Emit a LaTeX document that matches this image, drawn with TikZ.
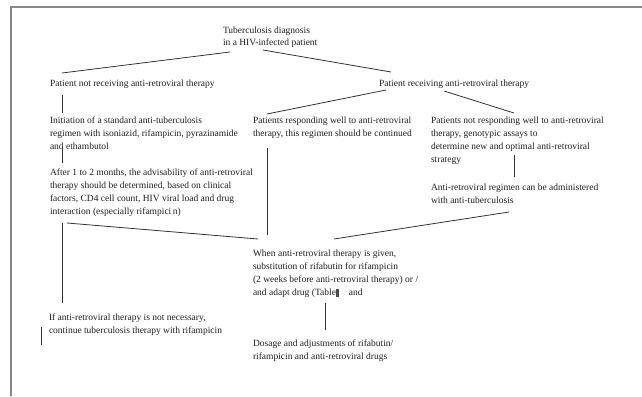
\documentclass[tikz,border=0pt]{standalone}
\usepackage{fontspec}
\setmainfont{Liberation Serif}
\usepackage{array}
\begin{document}
\begin{tikzpicture}[x=1pt,y=-1pt,
  txt/.style={anchor=base west,inner sep=0pt,outer sep=0pt,text=black!88,
    font=\fontsize{9.5}{13.3}\selectfont},
  conn/.style={draw=black!80,line width=0.8pt},
  frame/.style={draw=black!47,line width=2pt}]
\newcommand{\blk}[1]{\begin{tabular}[t]{@{}l@{}}#1\end{tabular}}
\useasboundingbox (0,0) rectangle (642,396);
\draw[frame] (11,396) -- (11,6.7) -- (642,6.7);
% texts
\node[txt] (title) at (223,34) {\blk{Tuberculosis diagnosis\\[-1.3pt]in a HIV-infected patient}};
\node[txt] (notrec) at (50,86) {Patient not receiving anti-retroviral therapy};
\node[txt] (rec) at (379,86) {Patient receiving anti-retroviral therapy};
\node[txt] (init) at (50,123) {\blk{Initiation of a standard anti-tuberculosis\\regimen with isoniazid, rifampicin, pyrazinamide\\and ethambutol}};
\node[txt] (resp) at (253,123) {\blk{Patients responding well to anti-retroviral\\therapy, this regimen should be continued}};
\node[txt] (notresp) at (431,123) {\blk{Patients not responding well to anti-retroviral\\therapy, genotypic assays to\\determine new and optimal anti-retroviral\\strategy}};
\node[txt] (after) at (50,175) {\blk{After 1 to 2 months, the advisability of anti-retroviral\\therapy should be determined, based on clinical\\factors, CD4 cell count, HIV viral load and drug\\interaction (especially rifampici\,n)}};
\node[txt] (antireg) at (431,190) {\blk{Anti-retroviral regimen can be administered\\with anti-tuberculosis}};
\node[txt] (when) at (253,256) {\blk{When anti-retroviral therapy is given,\\substitution of rifabutin for rifampicin\\(2 weeks before anti-retroviral therapy) or /\\and adapt drug (Table{\color{black!70}\rule[-1pt]{3.5pt}{7.5pt}}\quad and}};
\node[txt] (ifnot) at (49,320) {\blk{If anti-retroviral therapy is not necessary,\\continue tuberculosis therapy with rifampicin}};
\node[txt] (dosage) at (253,346) {\blk{Dosage and adjustments of rifabutin/\\rifampicin and anti-retroviral drugs}};
% connector end points
\coordinate (title-l) at (230,52);
\coordinate (title-r) at (263,50);
\coordinate (notrec-t) at (62,73);
\coordinate (notrec-b) at (62,95);
\coordinate (rec-t) at (391,72);
\coordinate (rec-bl) at (386,90);
\coordinate (rec-br) at (444,91);
\coordinate (init-t) at (62,113);
\coordinate (init-b) at (62,146);
\coordinate (resp-t) at (267,114);
\coordinate (resp-b) at (267,148);
\coordinate (notresp-t) at (514,113);
\coordinate (notresp-b) at (514,155);
\coordinate (after-t) at (62,163);
\coordinate (after-b) at (62,223);
\coordinate (after-br) at (67,223);
\coordinate (antireg-t) at (514,177);
\coordinate (antireg-b) at (509,212);
\coordinate (when-l) at (258,239);
\coordinate (when-m) at (267,235);
\coordinate (when-r) at (334,239);
\coordinate (when-b) at (325,303);
\coordinate (ifnot-t) at (62,303);
\coordinate (dosage-t) at (325,330);
\coordinate (tick-a) at (41,327);
\coordinate (tick-b) at (41,345);
% connectors
\draw[conn] (title-l) -- (notrec-t);
\draw[conn] (title-r) -- (rec-t);
\draw[conn] (notrec-b) -- (init-t);
\draw[conn] (rec-bl) -- (resp-t);
\draw[conn] (rec-br) -- (notresp-t);
\draw[conn] (init-b) -- (after-t);
\draw[conn] (notresp-b) -- (antireg-t);
\draw[conn] (resp-b) -- (when-m);
\draw[conn] (after-br) -- (when-l);
\draw[conn] (antireg-b) -- (when-r);
\draw[conn] (after-b) -- (ifnot-t);
\draw[conn] (when-b) -- (dosage-t);
\draw[conn] (tick-a) -- (tick-b);
\end{tikzpicture}
\end{document}
